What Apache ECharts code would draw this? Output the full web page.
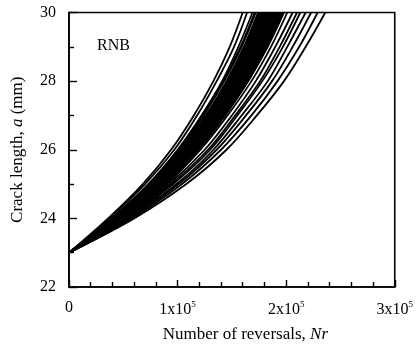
<!DOCTYPE html>
<html>
<head>
<meta charset="utf-8">
<script src="https://cdn.jsdelivr.net/npm/echarts@6/dist/echarts.min.js"></script>
<style>
  html, body { margin: 0; padding: 0; background: #fff; }
  #chart { width: 416px; height: 364px; }
</style>
</head>
<body>
<div id="chart"></div>
<script>
// Crack length levels (mm) shared by every curve
const crackLevels = [23, 24, 25, 26, 27, 28, 29, 30];

// Number of reversals (in thousands) at which each specimen reaches each crack length
const reversalsK = [
  [0, 36, 68, 94, 115, 133, 148, 160],
  [0, 37, 70, 97, 118, 136, 152, 164],
  [0, 39, 73, 100, 122, 141, 156, 169],
  [0, 40, 74, 101, 123, 142, 158, 171],
  [0, 40, 74, 102, 124, 143, 159, 172],
  [0, 40, 75, 103, 126, 145, 161, 174],
  [0, 41, 76, 104, 126, 146, 162, 175],
  [0, 41, 76, 105, 127, 147, 163, 176],
  [0, 41, 77, 105, 128, 148, 164, 177],
  [0, 42, 78, 106, 129, 148, 165, 178],
  [0, 42, 78, 107, 130, 149, 166, 179],
  [0, 42, 79, 107, 130, 150, 166, 180],
  [0, 43, 79, 108, 131, 151, 167, 181],
  [0, 43, 80, 109, 132, 152, 168, 182],
  [0, 43, 80, 109, 133, 153, 169, 183],
  [0, 44, 81, 110, 133, 154, 170, 184],
  [0, 44, 81, 111, 134, 154, 171, 185],
  [0, 44, 82, 111, 135, 155, 172, 186],
  [0, 45, 82, 112, 136, 156, 173, 187],
  [0, 45, 83, 113, 136, 157, 174, 188],
  [0, 45, 83, 114, 137, 158, 175, 189],
  [0, 46, 84, 114, 138, 159, 176, 190],
  [0, 46, 84, 115, 139, 160, 177, 191],
  [0, 46, 85, 115, 139, 160, 178, 192],
  [0, 46, 85, 116, 140, 161, 178, 193],
  [0, 47, 86, 117, 141, 162, 179, 194],
  [0, 47, 86, 117, 142, 163, 180, 195],
  [0, 47, 87, 118, 142, 164, 181, 196],
  [0, 48, 88, 119, 143, 165, 182, 197],
  [0, 48, 88, 119, 144, 165, 183, 198],
  [0, 49, 90, 121, 146, 168, 186, 201],
  [0, 50, 92, 125, 150, 172, 190, 206],
  [0, 52, 94, 128, 153, 176, 194, 210],
  [0, 53, 96, 130, 155, 178, 197, 213],
  [0, 54, 99, 133, 159, 183, 201, 218],
  [0, 56, 101, 136, 163, 187, 206, 223],
  [0, 58, 104, 140, 168, 192, 212, 229],
  [0, 60, 108, 145, 173, 198, 218, 236]
];

// Axis ticks
const xTicksK = [0, 100, 200, 300];
const yTicks = [22, 24, 26, 28, 30];

const serif = '"Liberation Serif", "DejaVu Serif", serif';

const series = reversalsK.map(function (row) {
  return {
    type: 'line',
    data: row.map(function (n, i) { return [n, crackLevels[i]]; }),
    smooth: 0.35,
    showSymbol: false,
    silent: true,
    clip: true,
    lineStyle: { color: '#000', width: 1.8 }
  };
});

const chart = echarts.init(document.getElementById('chart'), null, { renderer: 'canvas' });
chart.setOption({
  animation: false,
  backgroundColor: '#fff',
  title: {
    text: 'RNB',
    left: 92,
    top: 33,
    textStyle: { fontFamily: serif, fontSize: 16, fontWeight: 'normal', color: '#000' }
  },
  grid: {
    left: 69, right: 20, top: 12.5, bottom: 77,
    show: true, borderColor: '#000', borderWidth: 1.6, backgroundColor: 'transparent'
  },
  xAxis: {
    type: 'value',
    min: xTicksK[0], max: xTicksK[xTicksK.length - 1], interval: 100,
    name: 'Number of reversals, {i|Nr}',
    nameLocation: 'middle',
    nameGap: 39,
    nameTextStyle: {
      fontFamily: serif, fontSize: 17, color: '#000', padding: [0, 0, 0, 27],
      rich: { i: { fontFamily: serif, fontSize: 17, fontStyle: 'italic', color: '#000' } }
    },
    axisLine: { lineStyle: { color: '#000', width: 1.6 } },
    axisTick: { inside: true, length: 7, lineStyle: { color: '#000', width: 1.4 } },
    minorTick: { show: true, splitNumber: 5, length: 5, lineStyle: { color: '#000', width: 1.4 } },
    splitLine: { show: false },
    axisLabel: {
      margin: 13,
      fontFamily: serif, fontSize: 16, color: '#000',
      formatter: function (v) { return v === 0 ? '0' : (v / 100) + 'x10{sup|5}'; },
      rich: { sup: { fontFamily: serif, fontSize: 9, color: '#000', verticalAlign: 'top', padding: [0, 0, 10, 0] } }
    }
  },
  yAxis: {
    type: 'value',
    min: yTicks[0], max: yTicks[yTicks.length - 1], interval: 2,
    name: 'Crack length, {i|a} (mm)',
    nameLocation: 'middle',
    nameGap: 43,
    nameTextStyle: {
      fontFamily: serif, fontSize: 17, color: '#000',
      rich: { i: { fontFamily: serif, fontSize: 17, fontStyle: 'italic', color: '#000' } }
    },
    axisLine: { lineStyle: { color: '#000', width: 1.6 } },
    axisTick: { inside: true, length: 8, lineStyle: { color: '#000', width: 1.4 } },
    minorTick: { show: true, splitNumber: 2, length: 5, lineStyle: { color: '#000', width: 1.4 } },
    splitLine: { show: false },
    axisLabel: { margin: 13, fontFamily: serif, fontSize: 16, color: '#000' }
  },
  series: series
});
</script>
</body>
</html>
